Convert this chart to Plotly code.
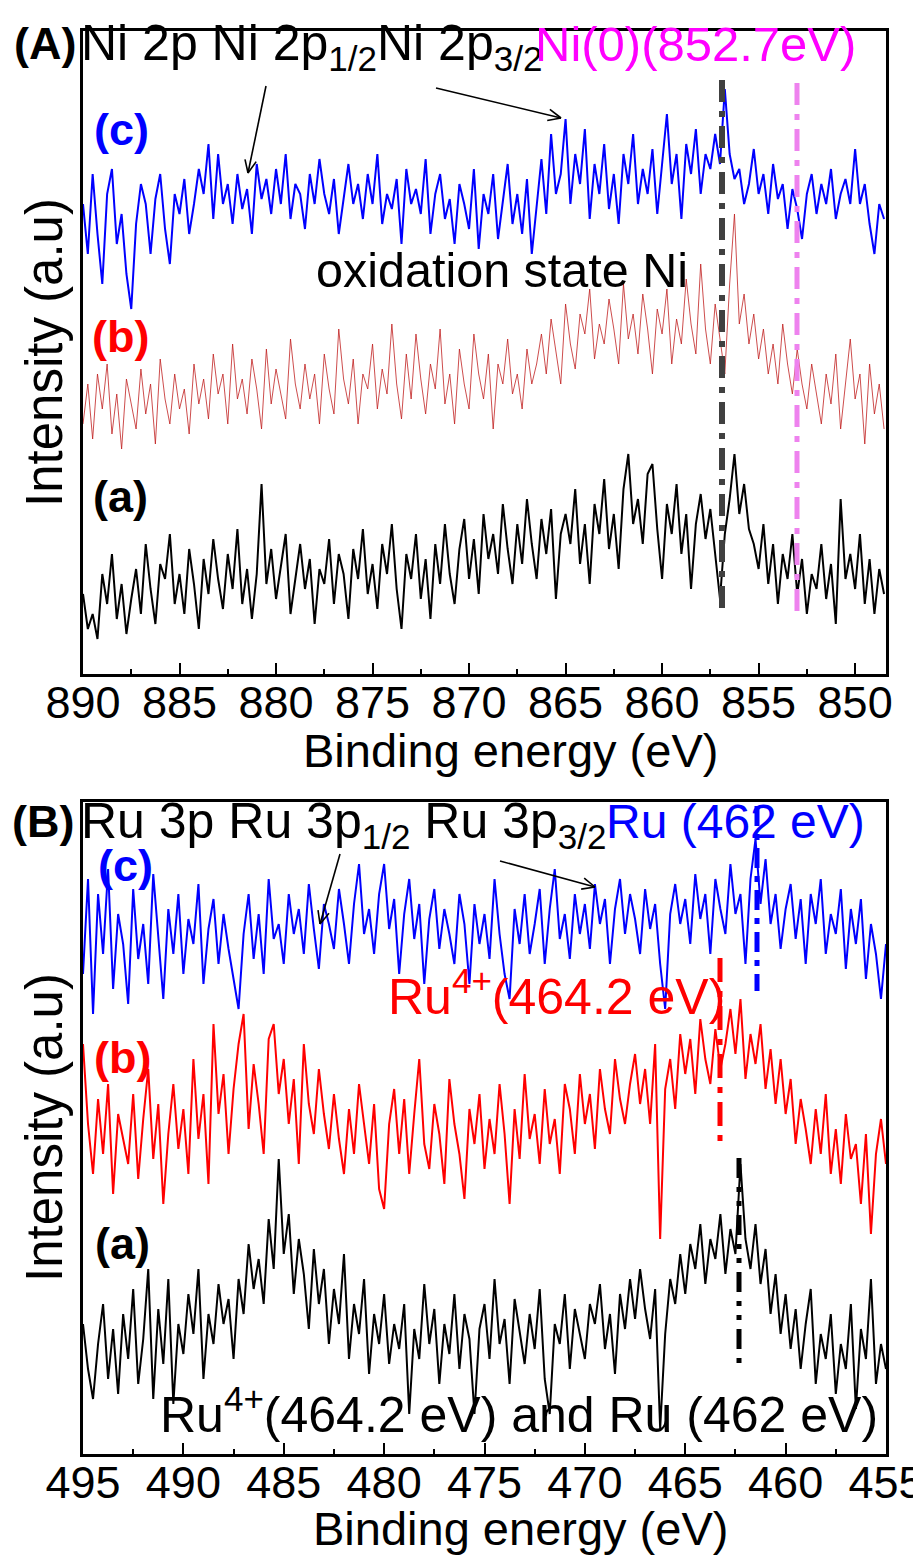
import numpy as np
import plotly.graph_objects as go

# ---------------- data ----------------
# binding-energy grids (eV)
energy_A = np.round(np.arange(890.0, 848.49, -0.25), 2)   # Ni 2p
energy_B = np.round(np.arange(495.0, 454.99, -0.25), 2)   # Ru 3p

# intensities in arbitrary units (already offset for stacking)
ni_c = [470, 420, 500, 440, 390, 480, 505, 430, 460, 400,
        365, 450, 490, 470, 420, 475, 500, 445, 410, 480,
        460, 495, 440, 470, 505, 480, 530, 455, 520, 470,
        490, 450, 500, 465, 485, 440, 510, 475, 495, 460,
        505, 470, 520, 455, 490, 480, 445, 500, 470, 515,
        480, 460, 495, 440, 475, 510, 470, 490, 455, 500,
        470, 520, 450, 480, 465, 495, 430, 505, 470, 485,
        460, 515, 440, 480, 500, 455, 475, 430, 490, 470,
        445, 505, 425, 480, 460, 500, 435, 470, 510, 450,
        480, 440, 495, 420, 470, 515, 460, 540, 480, 500,
        555, 470, 520, 490, 545, 455, 510, 480, 530, 465,
        500, 450, 520, 490, 540, 470, 505, 480, 525, 460,
        510, 560, 490, 520, 455, 530, 500, 545, 480, 520,
        505, 540, 510, 585, 520, 495, 505, 470, 490, 525,
        480, 500, 460, 510, 475, 490, 445, 485, 465, 435,
        480, 500, 460, 490, 470, 505, 455, 480, 495, 470,
        525, 470, 490, 450, 420, 470, 455]

ni_b = [250, 290, 235, 300, 265, 310, 240, 280, 225, 295,
        270, 245, 305, 260, 290, 230, 315, 275, 250, 300,
        265, 285, 240, 310, 270, 295, 255, 320, 280, 300,
        250, 330, 275, 295, 260, 315, 285, 245, 325, 270,
        305, 280, 255, 335, 290, 265, 310, 275, 300, 250,
        320, 285, 260, 345, 295, 270, 315, 250, 300, 285,
        330, 265, 305, 280, 350, 290, 255, 320, 275, 340,
        295, 260, 310, 285, 345, 270, 300, 250, 325, 290,
        265, 340, 300, 275, 320, 245, 310, 290, 335, 280,
        300, 265, 325, 290, 310, 340, 300, 355, 320, 290,
        370, 330, 305, 360, 340, 385, 315, 350, 330, 375,
        345, 310, 390, 335, 360, 320, 380, 345, 300, 365,
        340, 385, 310, 355, 330, 395, 350, 320, 410, 345,
        310, 370, 335, 300, 390, 460, 350, 380, 330, 360,
        315, 345, 300, 330, 290, 350, 310, 280, 325, 290,
        265, 310, 280, 250, 300, 270, 320, 245, 290, 335,
        275, 300, 230, 310, 260, 290, 245]

ni_a = [80, 45, 60, 35, 100, 70, 120, 55, 90, 40,
        75, 105, 60, 130, 85, 50, 110, 95, 140, 70,
        100, 60, 125, 90, 45, 115, 80, 135, 95, 65,
        120, 85, 145, 70, 105, 55, 100, 190, 90, 125,
        75, 110, 140, 60, 95, 130, 85, 115, 50, 105,
        90, 135, 70, 120, 100, 55, 125, 95, 145, 80,
        110, 65, 130, 100, 150, 85, 45, 120, 95, 140,
        75, 115, 55, 130, 90, 150, 100, 70, 125, 155,
        95, 135, 80, 160, 115, 140, 100, 170, 125, 90,
        150, 110, 175, 130, 95, 155, 120, 165, 75, 140,
        160, 130, 185, 110, 150, 90, 170, 140, 195, 125,
        160, 105, 185, 220, 150, 175, 130, 200, 210, 145,
        95, 170, 140, 190, 120, 160, 85, 150, 180, 135,
        165, 120, 75, 140, 175, 220, 160, 190, 145, 130,
        105, 150, 90, 130, 70, 120, 95, 140, 80, 115,
        60, 100, 85, 130, 75, 110, 50, 175, 95, 120,
        85, 140, 70, 115, 60, 105, 80]

ru_c = [480, 575, 440, 560, 500, 585, 465, 540, 510, 450,
        565, 495, 530, 470, 580, 520, 455, 545, 500, 560,
        480, 535, 510, 570, 470, 525, 555, 490, 540, 505,
        475, 445, 520, 560, 495, 540, 480, 575, 515, 530,
        490, 560, 520, 545, 500, 570, 525, 485, 550, 530,
        505, 565, 530, 490, 550, 590, 520, 545, 500, 560,
        590, 525, 555, 480, 540, 575, 515, 550, 470, 535,
        565, 505, 545, 520, 490, 560, 530, 470, 550, 510,
        540, 495, 575, 520, 480, 455, 545, 510, 560, 500,
        530, 565, 490, 545, 585, 515, 540, 495, 560, 520,
        550, 505, 570, 530, 555, 490, 545, 575, 520, 560,
        535, 500, 565, 525, 550, 490, 445, 540, 570, 530,
        555, 510, 580, 535, 560, 500, 575, 545, 520, 590,
        540, 560, 490, 575, 615, 550, 595, 530, 560, 505,
        545, 570, 515, 555, 490, 560, 530, 575, 500, 540,
        520, 565, 485, 545, 510, 555, 475, 530, 500, 455,
        510]

ru_b = [410, 330, 280, 355, 300, 370, 260, 340, 315, 290,
        360, 275, 335, 385, 295, 350, 250, 320, 370, 305,
        345, 280, 395, 315, 360, 270, 430, 340, 380, 300,
        365, 410, 440, 325, 390, 350, 300, 415, 430, 360,
        395, 330, 375, 290, 410, 350, 320, 385, 340, 305,
        360, 315, 280, 345, 300, 370, 330, 290, 350, 265,
        245, 330, 365, 300, 355, 280, 340, 395, 310, 285,
        350, 320, 270, 375, 330, 300, 255, 345, 310, 360,
        285, 335, 300, 370, 320, 250, 345, 295, 380, 315,
        340, 290, 365, 310, 335, 280, 370, 345, 300, 380,
        330, 360, 305, 385, 345, 320, 395, 355, 330, 370,
        400, 350, 385, 330, 410, 215, 365, 395, 345, 420,
        380, 415, 360, 435, 395, 370, 425, 385, 410, 445,
        400, 455, 375, 420, 390, 430, 365, 405, 350, 395,
        340, 375, 310, 355, 325, 290, 345, 300, 360, 280,
        325, 270, 340, 295, 310, 250, 320, 220, 300, 335,
        290]

ru_a = [130, 85, 55, 110, 150, 75, 125, 60, 140, 95,
        165, 70, 115, 185, 55, 145, 90, 175, 50, 130,
        100, 160, 120, 185, 75, 140, 110, 170, 130, 155,
        95, 175, 140, 210, 165, 195, 150, 235, 185, 295,
        200, 240, 160, 215, 180, 125, 205, 150, 185, 110,
        165, 130, 200, 95, 150, 120, 175, 80, 140, 110,
        160, 90, 130, 105, 150, 40, 125, 95, 170, 110,
        145, 70, 130, 100, 160, 85, 140, 115, 40, 125,
        150, 95, 175, 110, 135, 70, 155, 120, 90, 140,
        105, 165, 75, 40, 130, 110, 160, 85, 145, 120,
        95, 150, 130, 170, 105, 140, 80, 160, 125, 175,
        135, 185, 145, 115, 165, 25, 120, 175, 150, 200,
        160, 210, 185, 230, 170, 215, 195, 240, 180, 225,
        200, 290, 215, 185, 230, 170, 205, 140, 180, 120,
        160, 105, 145, 85, 130, 165, 70, 120, 95, 140,
        60, 110, 85, 150, 45, 125, 95, 175, 70, 110,
        85]

ticks_A = [890, 885, 880, 875, 870, 865, 860, 855, 850]
ticks_B = [495, 490, 485, 480, 475, 470, 465, 460, 455]

assert len(ni_c) == len(ni_b) == len(ni_a) == len(energy_A)
assert len(ru_c) == len(ru_b) == len(ru_a) == len(energy_B)

# ---------------- layout helpers (pixel -> paper) ----------------
W, H = 921, 1557
def PX(x):
    return x / W
def PY(y):
    return 1 - y / H

FONT = "Liberation Sans, Arial, sans-serif"

fig = go.Figure()

fig.add_trace(go.Scatter(x=energy_A, y=ni_c, mode="lines",
                         line=dict(color="#0000FF", width=2), xaxis="x", yaxis="y"))
fig.add_trace(go.Scatter(x=energy_A, y=ni_b, mode="lines",
                         line=dict(color="#C02020", width=0.8), xaxis="x", yaxis="y"))
fig.add_trace(go.Scatter(x=energy_A, y=ni_a, mode="lines",
                         line=dict(color="#000000", width=2), xaxis="x", yaxis="y"))

fig.add_trace(go.Scatter(x=energy_B, y=ru_c, mode="lines",
                         line=dict(color="#0000FF", width=2), xaxis="x2", yaxis="y2"))
fig.add_trace(go.Scatter(x=energy_B, y=ru_b, mode="lines",
                         line=dict(color="#FF0000", width=2), xaxis="x2", yaxis="y2"))
fig.add_trace(go.Scatter(x=energy_B, y=ru_a, mode="lines",
                         line=dict(color="#000000", width=2), xaxis="x2", yaxis="y2"))

xdom = [PX(75), PX(878)]
xaxis_common = dict(
    domain=xdom, showline=True, linecolor="black", linewidth=2.5, mirror=True,
    ticks="inside", ticklen=11, tickwidth=2, tickcolor="black",
    minor=dict(ticks="inside", ticklen=5, tickwidth=2, tickcolor="black", dtick=2.5),
    showgrid=False, zeroline=False, automargin=False,
    tickfont=dict(family=FONT, size=45, color="black"),
    ticklabelstandoff=-13,
)
yaxis_common = dict(showline=True, linecolor="black", linewidth=2.5, mirror=True,
                    showticklabels=False, ticks="", showgrid=False, zeroline=False,
                    automargin=False)

fig.update_layout(
    width=W, height=H, margin=dict(l=0, r=0, t=0, b=0, autoexpand=False),
    paper_bgcolor="white", plot_bgcolor="white", showlegend=False,
    xaxis=dict(**xaxis_common, range=[890, 848.4], tickvals=ticks_A,
               ticktext=[str(t) for t in ticks_A], anchor="y"),
    yaxis=dict(**yaxis_common, domain=[PY(666), PY(23)], range=[0, 643], anchor="x"),
    xaxis2=dict(**xaxis_common, range=[495, 455], tickvals=ticks_B,
                ticktext=[str(t) for t in ticks_B], anchor="y2"),
    yaxis2=dict(**yaxis_common, domain=[PY(1446), PY(794)], range=[0, 652], anchor="x2"),
)

annotations = []
def txt(text, x, y, size=47, color="black", bold=False, xanchor="left", angle=0, family=FONT):
    if bold:
        text = "<b>" + text + "</b>"
    annotations.append(dict(text=text, x=PX(x), y=PY(y), xref="paper", yref="paper",
                            xanchor=xanchor, yanchor="middle", showarrow=False,
                            textangle=angle,
                            font=dict(family=family, size=size, color=color)))

# panel A texts
txt("(A)", 37, 36, size=45, bold=True, xanchor="center")
txt("Ni 2p Ni 2p<sub>1/2</sub>Ni 2p<sub>3/2</sub>", 71, 38, size=50)
txt("Ni(0)(852.7eV)", 525, 36, size=49, color="#FF00FF")
txt("oxidation state Ni", 306, 262, size=48.5)
txt("(c)", 113, 121, size=45, color="#0000FF", bold=True, xanchor="center")
txt("(b)", 112, 329, size=45, color="#FF0000", bold=True, xanchor="center")
txt("(a)", 112, 488, size=45, color="black", bold=True, xanchor="center")
txt("Intensity (a.u)", 36, 345, size=51, angle=-90, xanchor="center")
txt("Binding energy (eV)", 502, 742, size=47, xanchor="center")

# panel B texts
txt("(B)", 35, 814, size=45, bold=True, xanchor="center")
txt("Ru 3p Ru 3p<sub>1/2</sub> Ru 3p<sub>3/2</sub>", 71, 816, size=50)
txt("Ru (462 eV)", 596, 814, size=48, color="#0000FF")
txt("Ru<sup>4+</sup>(464.2 eV)", 378, 985, size=50, color="#FF0000")
txt("Ru<sup>4+</sup>(464.2 eV) and Ru (462 eV)", 150, 1403, size=50)
txt("(c)", 117, 857, size=45, color="#0000FF", bold=True, xanchor="center")
txt("(b)", 114, 1049, size=45, color="#FF0000", bold=True, xanchor="center")
txt("(a)", 114, 1235, size=45, color="black", bold=True, xanchor="center")
txt("Intensity (a.u)", 36, 1120, size=51, angle=-90, xanchor="center")
txt("Binding energy (eV)", 512, 1520, size=47, xanchor="center")

fig.update_layout(annotations=annotations)

shapes = []
def vline(x, y0, y1, color, width, dash):
    shapes.append(dict(type="line", xref="paper", yref="paper",
                       x0=PX(x), x1=PX(x), y0=PY(y0), y1=PY(y1),
                       line=dict(color=color, width=width, dash=dash)))

def arrow(x0, y0, x1, y1, head=14, spread=0.42):
    shapes.append(dict(type="line", xref="paper", yref="paper",
                       x0=PX(x0), y0=PY(y0), x1=PX(x1), y1=PY(y1),
                       line=dict(color="black", width=1.6)))
    ang = np.arctan2(y0 - y1, x0 - x1)
    for s in (-spread, spread):
        hx = x1 + head * np.cos(ang + s)
        hy = y1 + head * np.sin(ang + s)
        shapes.append(dict(type="line", xref="paper", yref="paper",
                           x0=PX(x1), y0=PY(y1), x1=PX(hx), y1=PY(hy),
                           line=dict(color="black", width=1.6)))

vline(714, 72, 605, "#404040", 6, "22px,9px,6px,9px")
vline(789, 75, 607, "#EE82EE", 5, "22px,9px,6px,9px")
vline(712, 950, 1140, "#FF0000", 5, "24px,9px,6px,9px")
vline(749, 798, 983, "#0000FF", 5, "20px,8px,6px,8px")
vline(731, 1150, 1362, "#000000", 5, "20px,9px,5px,9px,5px,9px")

arrow(258, 78, 240, 165)
arrow(428, 80, 553, 110)
arrow(332, 846, 312, 916)
arrow(492, 853, 587, 879)

fig.update_layout(shapes=shapes)

fig.write_html("out.html")
